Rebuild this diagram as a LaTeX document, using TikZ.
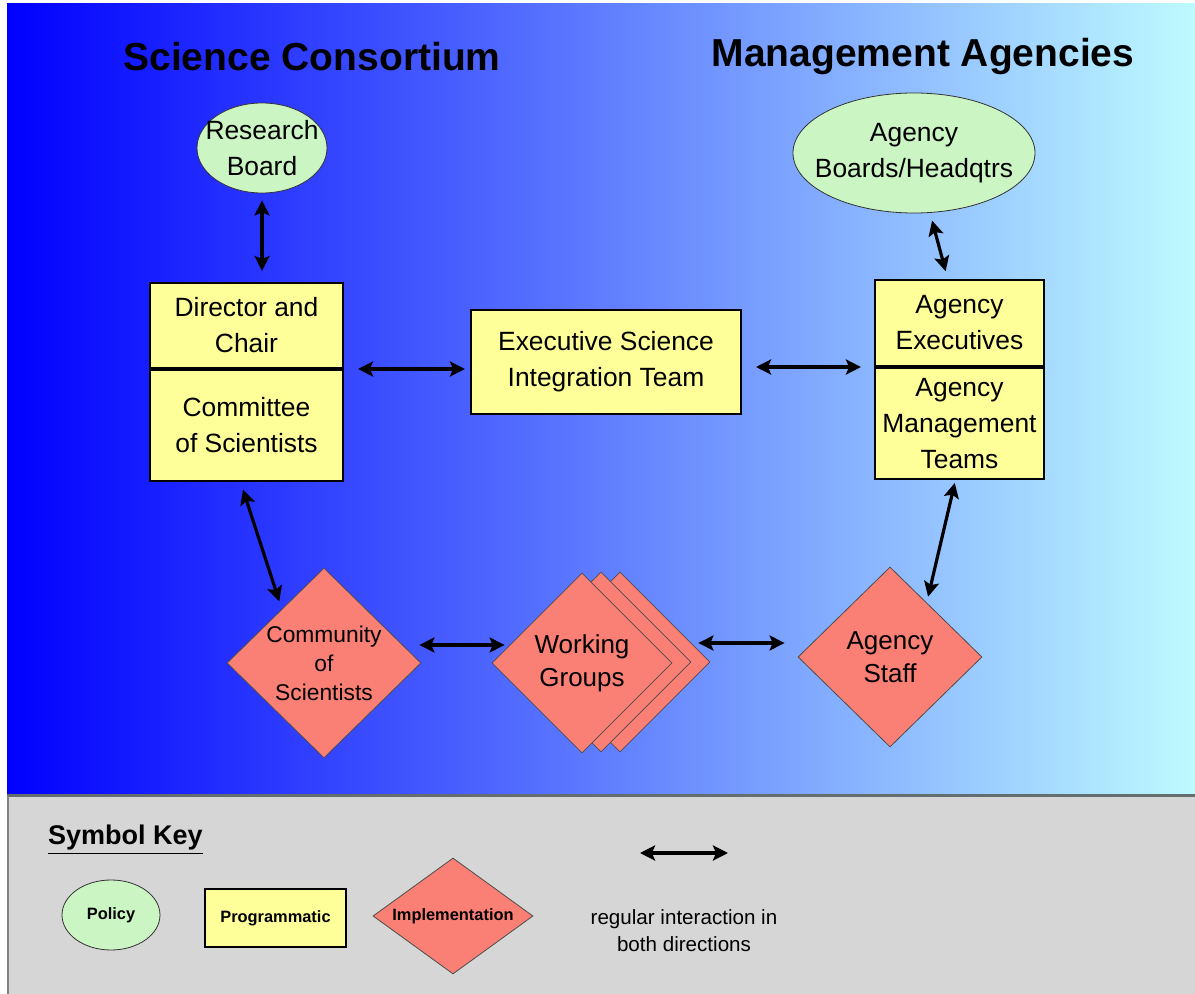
\documentclass[tikz,border=0pt]{standalone}
\usepackage{fontspec}
\setmainfont{Liberation Sans}
\usepackage{tikz}
\usetikzlibrary{arrows.meta,positioning,shapes.geometric}

\definecolor{bgblue}{RGB}{0,0,255}
\definecolor{bgmid}{RGB}{128,168,252}
\definecolor{bgcyan}{RGB}{190,250,255}
\definecolor{keygrey}{RGB}{214,214,214}
\definecolor{keyline}{RGB}{100,110,110}
\definecolor{policygreen}{RGB}{204,245,196}
\definecolor{progyellow}{RGB}{255,255,153}
\definecolor{implsalmon}{RGB}{250,128,118}

\tikzset{
  policy/.style={ellipse,draw=black!80,fill=policygreen,inner sep=-30pt,align=center},
  program/.style={rectangle,draw=black,line width=1pt,fill=progyellow,inner sep=0pt,align=center},
  impl/.style={diamond,draw=black!70,fill=implsalmon,inner sep=-40pt,align=center},
  link/.style={<->,line width=1.6pt},
  heading/.style={font=\fontsize{19.5}{22}\selectfont\bfseries},
  boxtext/.style={font=\fontsize{13.2}{18}\selectfont},
  keytext/.style={font=\fontsize{8.2}{10}\selectfont\bfseries},
}

\begin{document}
\begin{tikzpicture}[x=0.5pt,y=-0.5pt,>={Stealth[length=7.5pt,width=7.5pt,inset=1.5pt]}]
\useasboundingbox (0,0) rectangle (1195,994);
% backdrop and key panel
\fill[white] (0,0) rectangle (1195,994);
\shade[left color=bgblue,middle color=bgmid,right color=bgcyan] (7,4) rectangle (1195,795);
\fill[keygrey] (7,795) rectangle (1195,994);
\draw[keyline,line width=1.5pt] (7,795) -- (1195,795);
\draw[gray,line width=1pt] (8,796) -- (8,994);

% column titles
\node[heading] (sci)  at (312,57) {Science Consortium};
\node[heading] (mgmt) at (923,57) {Management Agencies};

% science side
\node[policy,boxtext,minimum width=65pt,minimum height=45pt] (rb) at (262,148) {Research\\Board};
\node[program,boxtext,minimum width=96.5pt,minimum height=42.5pt] (dir) at (246.5,325.5) {Director and\\Chair};
\node[program,boxtext,minimum width=96.5pt,minimum height=55.5pt,below=0pt of dir] (com) {Committee\\of Scientists};

% middle
\node[program,boxtext,minimum width=135pt,minimum height=52pt] (est) at (606,362) {Executive Science\\Integration Team};

% agency side
\node[policy,boxtext,minimum width=121pt,minimum height=60pt] (ab) at (914,153) {Agency\\Boards/Headqtrs};
\node[program,boxtext,minimum width=84.5pt,minimum height=43pt] (ae) at (959.5,323) {Agency\\Executives};
\node[program,boxtext,minimum width=84.5pt,minimum height=55.5pt,below=0pt of ae] (amt) {Agency\\Management\\Teams};

% implementation level
\node[impl,font=\fontsize{11.4}{14.5}\selectfont,minimum width=97pt,minimum height=95pt] (cos) at (324,663) {Community\\of\\Scientists};
\foreach \d/\n in {38/wg3,19/wg2}
  \node[impl,minimum width=90pt,minimum height=90pt] (\n) at (582+\d,662) {};
\node[impl,font=\fontsize{13}{16.5}\selectfont,minimum width=90pt,minimum height=90pt] (wg) at (582,663) {Working\\Groups};
\node[impl,font=\fontsize{13}{16.5}\selectfont,minimum width=92pt,minimum height=90pt] (staff) at (890,657) {Agency\\Staff};

% interactions
\draw[link] ([yshift=-3.5pt]rb.south) -- ([yshift=5.5pt]rb.south |- dir.north);
\draw[link,shorten <=4pt,shorten >=4pt] (ab) -- (ae);
\draw[link,shorten <=7pt,shorten >=2.5pt] (dir.south east) -- (dir.south east -| est.west);
\draw[link,shorten <=7pt,shorten >=6.5pt] (ae.south west -| est.east) -- (ae.south west);
\draw[link,shorten <=4pt,shorten >=4pt] ([xshift=-3pt]com.south) -- (cos.128);
\draw[link,shorten <=1.5pt,shorten >=3pt] ([xshift=-2pt]amt.south) -- (staff.56);
\draw[link] ([shift={(-1pt,9pt)}]cos.east) -- ([shift={(6.5pt,9pt)}]wg.west);
\draw[link] ([shift={(-6pt,9.5pt)}]wg3.east) -- ([shift={(-6.5pt,7pt)}]staff.west);

% symbol key
\node[anchor=west,font=\fontsize{13.5}{16}\selectfont\bfseries] (key) at (41,840) {\underline{Symbol Key}};
\node[policy,keytext,minimum width=49pt,minimum height=35pt] (kpol) at (111,915) {Policy};
\node[program,keytext,line width=0.8pt,minimum width=70.5pt,minimum height=29pt] (kprog) at (275.5,918) {Programmatic};
\node[impl,keytext,minimum width=80pt,minimum height=58pt] (kimpl) at (453,916) {Implementation};
\coordinate (keyl) at (640,853);
\coordinate (keyr) at (728,853);
\draw[link] (keyl) -- (keyr);
\node[align=center,font=\fontsize{10.3}{13.5}\selectfont] (kdesc) at (684,931) {regular interaction in\\both directions};
\end{tikzpicture}
\end{document}
